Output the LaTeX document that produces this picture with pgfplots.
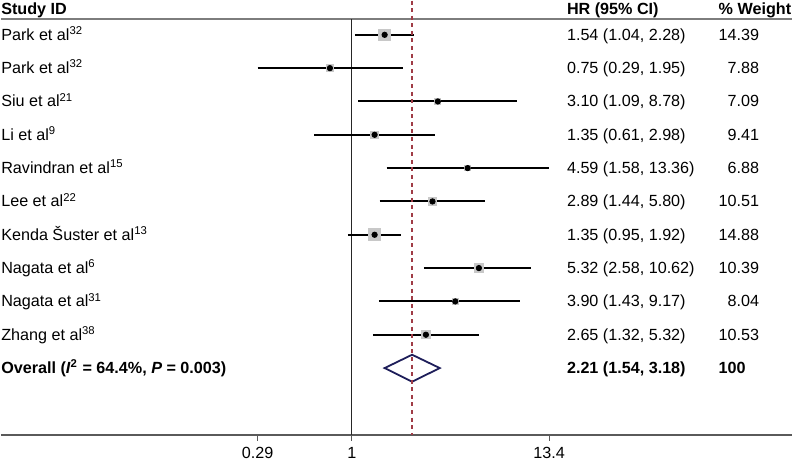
\documentclass[border=0pt]{standalone}
\usepackage{fontspec}
\setmainfont{Liberation Sans}
\usepackage{pgfplots}
\pgfplotsset{compat=1.18}
\definecolor{sqgray}{RGB}{200,200,200}
\definecolor{dashred}{RGB}{160,60,70}
\definecolor{diam}{RGB}{30,30,90}
\definecolor{rulec}{RGB}{125,125,125}
\definecolor{axisc}{RGB}{90,90,90}

% row, hr, lower, upper, half side of the weight box (pt)
\newcommand{\study}[5]{%
  \addplot[only marks, mark=square*, mark size=#5pt, color=sqgray, mark options={fill=sqgray, draw=sqgray, line width=0pt}] coordinates {(#2,-#1)};
  \addplot[black, line width=1pt] coordinates {(#3,-#1) (#4,-#1)};
  \addplot[only marks, mark=*, mark size=1.35pt, black] coordinates {(#2,-#1)};
}
% row, label, HR text, weight text
\newcommand{\rowtext}[4]{%
  \node[anchor=base west, inner sep=0pt] at (axis cs:0.0099,-#1-0.16) {#2};
  \node[anchor=base west, inner sep=0pt] at (axis cs:16.87,-#1-0.16) {#3};
  \node[anchor=base west, inner sep=0pt] at (axis cs:124,-#1-0.16) {#4};
}

\begin{document}
\fontsize{8.1}{9.7}\selectfont
\begin{tikzpicture}
\begin{axis}[
  scale only axis, width=396.5pt, height=208.5pt,
  xmode=log, xmin=0.0099, xmax=327.4,
  ymin=-13.018, ymax=-0.533,
  axis x line*=bottom, axis y line=none,
  x axis line style={draw=axisc, line width=0.9pt},
  xtick={0.29,1,13.4}, xticklabels={0.29,1,13.4}, minor xtick={},
  tick align=outside, major tick length=2.6pt,
  xtick style={draw=axisc, line width=0.6pt},
  xticklabel style={inner sep=0pt},
  xticklabel shift=3pt,
  clip=false,
]
  % header rule
  \draw[rulec, line width=0.8pt] (axis cs:0.0099,-0.533) -- (axis cs:327.4,-0.533);
  \node[anchor=base west, inner sep=0pt] at (axis cs:0.0099,-0.39) {\textbf{Study ID}};
  \node[anchor=base west, inner sep=0pt] at (axis cs:16.87,-0.39) {\textbf{HR (95\% CI)}};
  \node[anchor=base west, inner sep=0pt] at (axis cs:124,-0.39) {\textbf{\% Weight}};

  % null line
  \addplot[black!85, line width=0.6pt] coordinates {(1,-0.533) (1,-13.018)};

  \study{1}{1.54}{1.04}{2.28}{2.88}
  \study{2}{0.75}{0.29}{1.95}{1.58}
  \study{3}{3.10}{1.09}{8.78}{1.42}
  \study{4}{1.35}{0.61}{2.98}{1.88}
  \study{5}{4.59}{1.58}{13.36}{1.38}
  \study{6}{2.89}{1.44}{5.80}{2.10}
  \study{7}{1.35}{0.95}{1.92}{2.98}
  \study{8}{5.32}{2.58}{10.62}{2.08}
  \study{9}{3.90}{1.43}{9.17}{1.61}
  \study{10}{2.65}{1.32}{5.32}{2.11}

  % pooled estimate
  \addplot[diam, line width=0.9pt, fill=white] coordinates {(1.54,-11) (2.21,-10.6) (3.18,-11) (2.21,-11.41)} -- cycle;
  \addplot[dashred, line width=0.6pt, dash pattern=on 2pt off 1.8pt] coordinates {(2.21,0.027) (2.21,-13.018)};

  \rowtext{1}{Park et al\textsuperscript{32}}{1.54 (1.04, 2.28)}{14.39}
  \rowtext{2}{Park et al\textsuperscript{32}}{0.75 (0.29, 1.95)}{\hphantom{1}7.88}
  \rowtext{3}{Siu et al\textsuperscript{21}}{3.10 (1.09, 8.78)}{\hphantom{1}7.09}
  \rowtext{4}{Li et al\textsuperscript{9}}{1.35 (0.61, 2.98)}{\hphantom{1}9.41}
  \rowtext{5}{Ravindran et al\textsuperscript{15}}{4.59 (1.58, 13.36)}{\hphantom{1}6.88}
  \rowtext{6}{Lee et al\textsuperscript{22}}{2.89 (1.44, 5.80)}{10.51}
  \rowtext{7}{Kenda Šuster et al\textsuperscript{13}}{1.35 (0.95, 1.92)}{14.88}
  \rowtext{8}{Nagata et al\textsuperscript{6}}{5.32 (2.58, 10.62)}{10.39}
  \rowtext{9}{Nagata et al\textsuperscript{31}}{3.90 (1.43, 9.17)}{\hphantom{1}8.04}
  \rowtext{10}{Zhang et al\textsuperscript{38}}{2.65 (1.32, 5.32)}{10.53}
  \rowtext{11}{\textbf{Overall (\textit{I}\textsuperscript{2} = 64.4\%, \textit{P} = 0.003)}}{\textbf{2.21 (1.54, 3.18)}}{\textbf{100}}
\end{axis}
\path ([yshift=-1.2pt]current bounding box.south);
\end{tikzpicture}
\end{document}
